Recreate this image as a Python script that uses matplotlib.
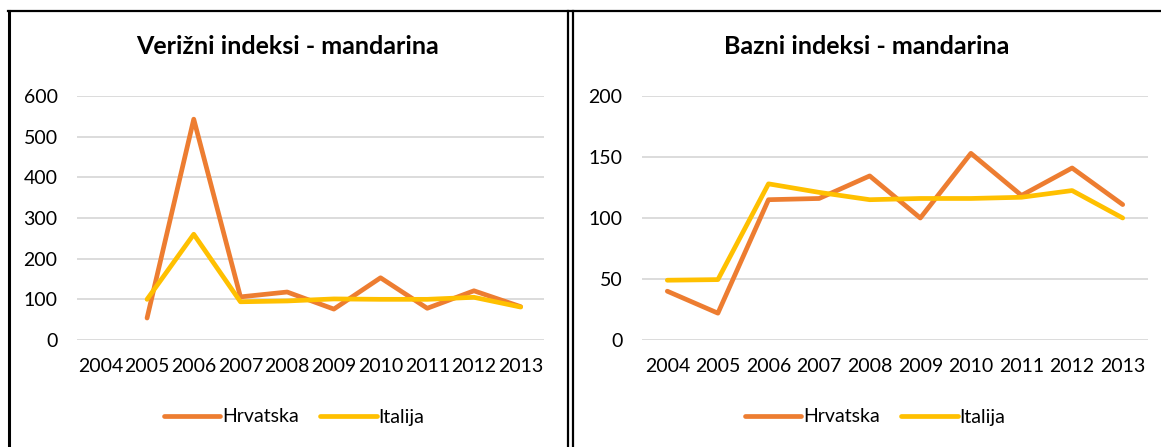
import matplotlib
matplotlib.use("Agg")
import matplotlib.pyplot as plt
from matplotlib.lines import Line2D

plt.rcParams['font.family'] = ['Lato', 'DejaVu Sans']

years = ['2004', '2005', '2006', '2007', '2008', '2009', '2010', '2011', '2012', '2013']

# Verižni indeksi (chain indices); 2004 has no value
chain_hr = [None, 54, 543, 106, 118, 76, 153, 78, 121, 82]
chain_it = [None, 100, 260, 94, 96, 101, 100, 100, 105, 81]

# Bazni indeksi (base indices)
base_hr = [40, 22, 115, 116, 134.5, 100, 153, 118.5, 141, 111]
base_it = [49, 49.5, 128, 121, 115, 116, 116, 117, 122.5, 100]

titles = ['Verižni indeksi - mandarina', 'Bazni indeksi - mandarina']
series_names = ['Hrvatska', 'Italija']
colors = ['#ED7D31', '#FFC000']

W, H = 1161, 447
fig = plt.figure(figsize=(W / 100, H / 100), dpi=100)


def px_axes(x0, x1, ytop, ybot):
    return fig.add_axes([x0 / W, (H - ybot) / H, (x1 - x0) / W, (ybot - ytop) / H])


def draw(ax, hr, it, ymax, ystep, title, title_cx, leg_cx):
    idx = list(range(len(years)))
    for vals, c, name in zip([hr, it], colors, series_names):
        xs = [i for i, v in zip(idx, vals) if v is not None]
        ys = [v for v in vals if v is not None]
        ax.plot(xs, ys, color=c, lw=3.4, solid_capstyle='round',
                solid_joinstyle='round', label=name, zorder=3)
    ax.set_xlim(-0.5, len(years) - 0.5)
    ax.set_ylim(0, ymax)
    ax.set_yticks(range(0, ymax + 1, ystep))
    ax.set_xticks(idx)
    ax.set_xticklabels(years)
    ax.grid(axis='y', color='#D9D9D9', lw=1.3)
    ax.set_axisbelow(True)
    for s in ax.spines.values():
        s.set_visible(False)
    ax.tick_params(axis='both', length=0, labelsize=14, colors='#000000')
    ax.tick_params(axis='y', pad=14)
    ax.tick_params(axis='x', pad=13)
    fig.text(title_cx / W, (H - 47) / H, title, ha='center', va='center',
             fontsize=18, fontweight='bold')
    handles = [Line2D([0], [0], color=c, lw=3.4, solid_capstyle='round') for c in colors]
    fig.legend(handles, series_names, loc='center', bbox_to_anchor=(leg_cx / W, (H - 417) / H),
               ncol=2, frameon=False, fontsize=14, handlelength=2.9, handletextpad=0.1,
               columnspacing=1.1)


ax1 = px_axes(77, 544, 96, 340)
draw(ax1, chain_hr, chain_it, 600, 100, titles[0], 288, 294)

ax2 = px_axes(642, 1148, 96, 340)
draw(ax2, base_hr, base_it, 200, 50, titles[1], 867, 875)

# panel borders
def fline(x0, y0, x1, y1, lw=2.0):
    fig.add_artist(Line2D([x0 / W, x1 / W], [(H - y0) / H, (H - y1) / H],
                          color='black', lw=lw, transform=fig.transFigure))

fline(8, 11, W, 11, 1.6)
fline(8.5, 11, 8.5, H, 2.2)
fline(567.5, 11, 567.5, H, 1.6)
fline(572.5, 11, 572.5, H, 1.6)

fig.savefig('out.png', dpi=100)
